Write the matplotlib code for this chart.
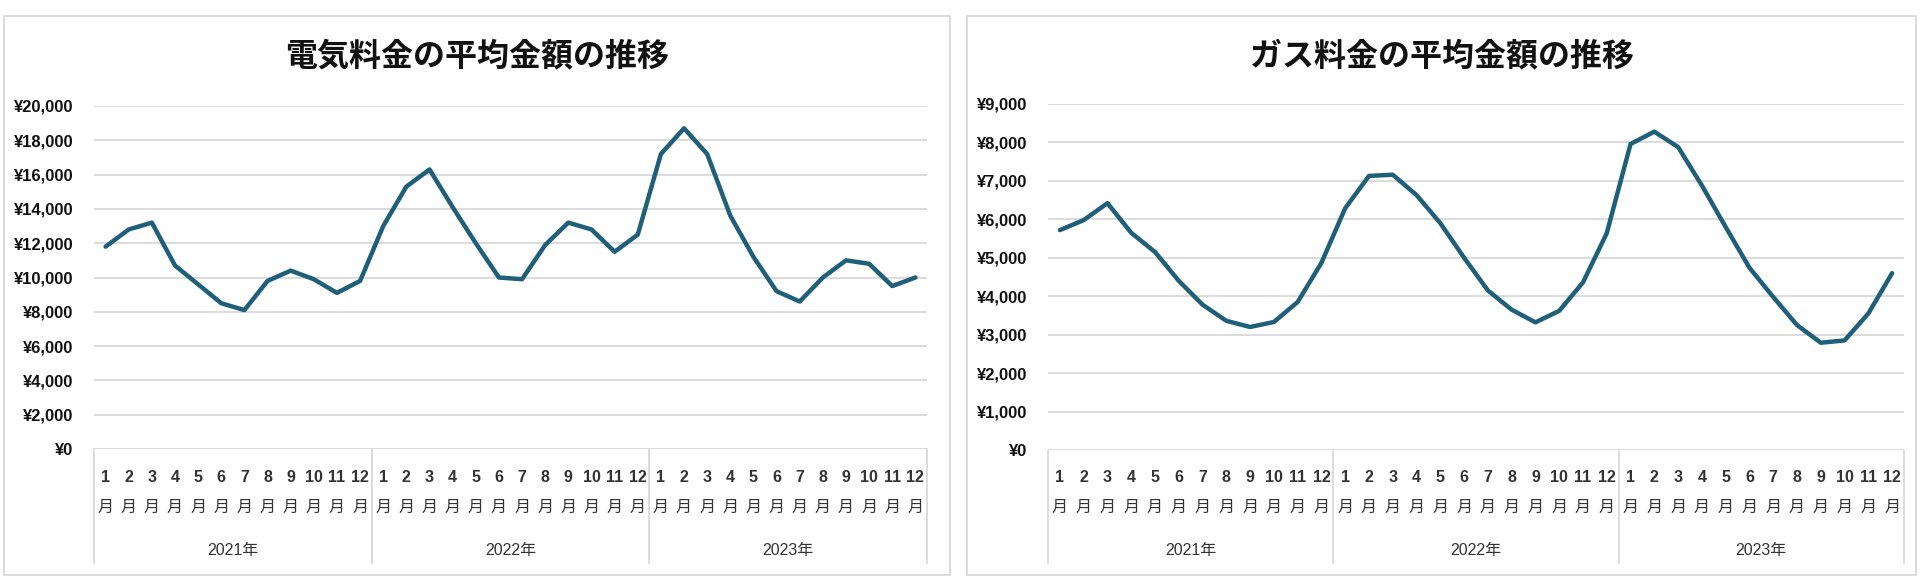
import matplotlib
matplotlib.use("Agg")
import matplotlib.pyplot as plt
from matplotlib.patches import Rectangle
from matplotlib.lines import Line2D
from matplotlib.ticker import FuncFormatter, MultipleLocator
from matplotlib.transforms import blended_transform_factory

# ---------------- data ----------------
years = ["2021年", "2022年", "2023年"]
month_numbers = ["1", "2", "3", "4", "5", "6", "7", "8", "9", "10", "11", "12"]
month_suffix = "月"

elec_2021 = [11800, 12800, 13200, 10700, 9600, 8500, 8100, 9800, 10400, 9900, 9100, 9800]
elec_2022 = [13000, 15300, 16300, 14100, 12000, 10000, 9900, 11900, 13200, 12800, 11500, 12500]
elec_2023 = [17200, 18700, 17200, 13600, 11200, 9200, 8600, 10000, 11000, 10800, 9500, 10000]

gas_2021 = [5720, 5980, 6420, 5650, 5150, 4400, 3780, 3360, 3200, 3330, 3850, 4870]
gas_2022 = [6290, 7130, 7160, 6630, 5900, 5000, 4150, 3650, 3320, 3620, 4360, 5640]
gas_2023 = [7960, 8280, 7880, 6880, 5800, 4740, 3980, 3250, 2790, 2850, 3550, 4600]

elec_title = "電気料金の平均金額の推移"
gas_title = "ガス料金の平均金額の推移"

# ---------------- style ----------------
LINE_COLOR = "#1F5F7A"
GRID_COLOR = "#d9d9d9"
TEXT_COLOR = "#111111"
CAT_COLOR = "#333333"
LATIN = ["Liberation Sans", "Noto Sans CJK JP", "DejaVu Sans"]
CJK = ["Noto Sans CJK JP", "DejaVu Sans"]

W, H = 1920, 582
fig = plt.figure(figsize=(W / 100, H / 100), dpi=100)
fig.patch.set_facecolor("white")


def fx(px):
    return px / W


def fy(py):
    return (H - py) / H


def panel(box_x0, box_x1, ax_x0, ax_x1, ax_top, ax_bot, values, ymax, ystep, title):
    # panel frame
    fig.add_artist(Rectangle((fx(box_x0), fy(575)), fx(box_x1 - box_x0), (575 - 16) / H,
                             transform=fig.transFigure, facecolor="none",
                             edgecolor=GRID_COLOR, linewidth=1.3, zorder=-5))
    ax = fig.add_axes([fx(ax_x0), fy(ax_bot), fx(ax_x1 - ax_x0), (ax_bot - ax_top) / H])
    ax.set_facecolor("none")
    n = len(values)
    ax.plot(range(n), values, color=LINE_COLOR, lw=3.2, solid_joinstyle="round",
            solid_capstyle="round", zorder=3)
    ax.set_xlim(-0.5, n - 0.5)
    ax.set_ylim(0, ymax)
    ax.yaxis.set_major_locator(MultipleLocator(ystep))
    ax.yaxis.set_major_formatter(FuncFormatter(lambda v, p: f"¥{int(round(v)):,}"))
    ax.tick_params(axis="y", length=0, pad=15, labelsize=12, labelcolor=TEXT_COLOR)
    for lab in ax.get_yticklabels():
        lab.set_fontweight("bold")
        lab.set_family(LATIN)
    ax.set_xticks([])
    ax.grid(axis="y", color=GRID_COLOR, lw=1.3)
    ax.set_axisbelow(True)
    for s in ax.spines.values():
        s.set_visible(False)

    tr = blended_transform_factory(ax.transData, fig.transFigure)
    # category box vertical separators
    for k in range(len(years) + 1):
        xs = -0.5 + 12 * k
        fig.add_artist(Line2D([xs, xs], [fy(ax_bot), fy(563)], transform=tr,
                              color=GRID_COLOR, lw=1.3))
    # month and year labels
    for yi, yr in enumerate(years):
        for mi, mn in enumerate(month_numbers):
            xi = yi * 12 + mi
            ax.text(xi, fy(477), mn, transform=tr, ha="center", va="center",
                    fontsize=11.5, fontweight="bold", color=CAT_COLOR, family=LATIN)
            ax.text(xi, fy(507), month_suffix, transform=tr, ha="center", va="center",
                    fontsize=11.5, color=CAT_COLOR, family=CJK)
        ax.text(yi * 12 + 5.5, fy(550), yr, transform=tr, ha="center", va="center",
                fontsize=11.5, color=CAT_COLOR, family=LATIN)

    fig.text(fx((box_x0 + box_x1) / 2), fy(56), title, ha="center", va="center",
             fontsize=23, fontweight="bold", color=TEXT_COLOR, family=CJK)
    return ax


elec = elec_2021 + elec_2022 + elec_2023
gas = gas_2021 + gas_2022 + gas_2023

panel(4, 950, 94, 927, 106, 449, elec, 20000, 2000, elec_title)
panel(967, 1916, 1048, 1904, 104, 450, gas, 9000, 1000, gas_title)

fig.savefig("out.png", dpi=100, facecolor="white")
